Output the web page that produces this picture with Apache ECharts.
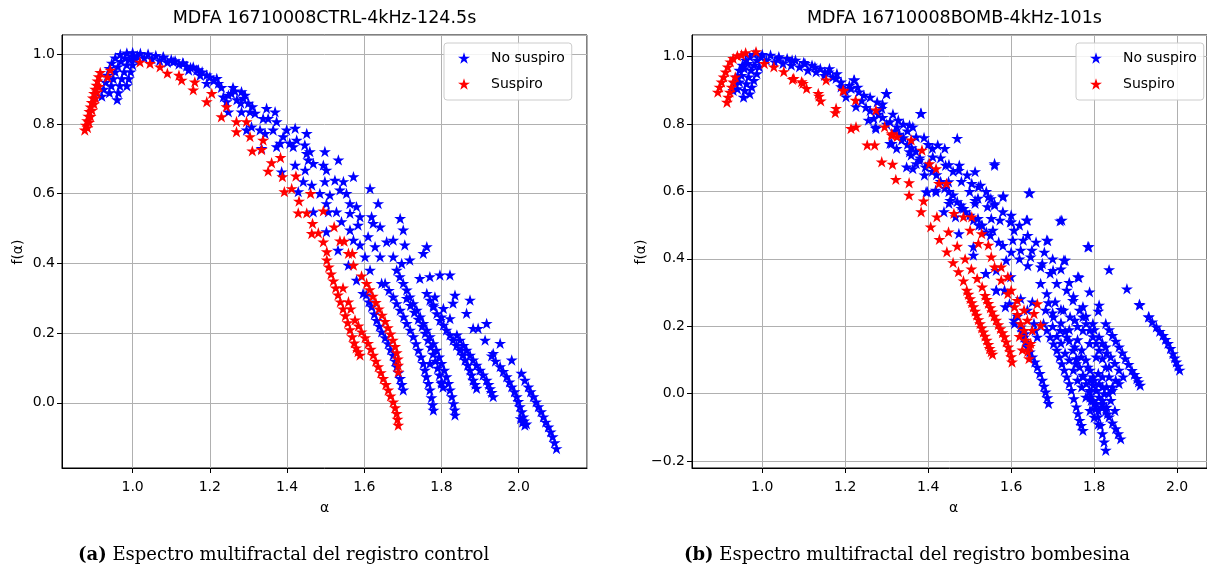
<!DOCTYPE html>
<html><head><meta charset="utf-8">
<script src="https://cdn.jsdelivr.net/npm/echarts@6/dist/echarts.min.js"></script>
<style>html,body{margin:0;padding:0;background:#fff}#c{width:1207px;height:570px}</style>
</head><body><div id="c"></div>
<script>
// ---------- text ----------
const chartTitles = ['MDFA 16710008CTRL-4kHz-124.5s', 'MDFA 16710008BOMB-4kHz-101s'];
const seriesNames = ['No suspiro', 'Suspiro'];
const xName = 'α';
const yName = 'f(α)';
const captionTags = ['(a)', '(b)'];
const captionTexts = ['Espectro multifractal del registro control', 'Espectro multifractal del registro bombesina'];

// ---------- panel (a) : control ----------
const leftBlue = [
[0.92,0.88],[0.925,0.9],[0.93,0.92],[0.935,0.94],[0.94,0.96],[0.946,0.975],[0.955,0.99],[0.968,1.0],[0.985,1.004],[1.0,1.005],
[0.94,0.89],[0.945,0.91],[0.95,0.93],[0.955,0.95],[0.962,0.965],[0.97,0.98],[0.98,0.99],
[0.96,0.87],[0.963,0.89],[0.967,0.91],[0.972,0.93],[0.978,0.95],[0.985,0.97],[0.992,0.985],[1.0,0.995],
[0.985,0.91],[0.99,0.93],[0.995,0.95],[1.0,0.97],[1.006,0.985],[1.012,0.996],
[1.02,1.003],[1.04,1.001],[1.06,0.997],[1.08,0.992],[1.1,0.985],[1.03,0.99],[1.05,0.987],[1.07,0.982],[1.09,0.977],[1.12,0.972],[1.14,0.966],[1.11,0.982],[1.13,0.976],[1.15,0.962],[1.17,0.956],
[1.18,0.95],[1.2,0.935],[1.21,0.925],[1.175,0.94],[1.145,0.955],[1.23,0.905],[1.27,0.87],[1.265,0.895],[1.3,0.86],[1.31,0.85],[1.28,0.86],[1.26,0.905],
[1.079,0.993],[1.105,0.979],[1.131,0.974],[1.157,0.964],[1.166,0.955],[1.192,0.941],[1.218,0.931],[1.222,0.917],[1.192,0.917],[1.248,0.883],[1.256,0.888],[1.282,0.893],[1.287,0.874],[1.291,0.883],[1.235,0.878],[1.243,0.864],[1.248,0.835],[1.282,0.835],[1.304,0.835],[1.317,0.831],[1.347,0.845],[1.369,0.835],[1.338,0.816],[1.351,0.816],[1.373,0.807],[1.295,0.783],[1.33,0.783],[1.364,0.783],[1.343,0.773],[1.308,0.792],[1.334,0.73],[1.382,0.745],[1.373,0.735],[1.399,0.783],[1.421,0.788],[1.451,0.773],[1.39,0.764],[1.407,0.745],[1.425,0.754],[1.416,0.735],[1.446,0.74],[1.459,0.721],[1.451,0.716],[1.498,0.721],[1.533,0.697],[1.386,0.663],[1.421,0.682],[1.455,0.697],[1.447,0.668],[1.468,0.687],[1.494,0.682],[1.502,0.668],[1.442,0.635],[1.464,0.625],[1.498,0.635],[1.524,0.639],[1.546,0.635],[1.572,0.649],[1.429,0.606],[1.485,0.601],[1.511,0.596],[1.537,0.611],[1.554,0.601],[1.615,0.615],[1.502,0.572],[1.468,0.548],[1.507,0.548],[1.528,0.548],[1.563,0.572],[1.58,0.563],[1.636,0.572],[1.563,0.544],[1.589,0.534],[1.619,0.534],[1.623,0.515],[1.502,0.491],[1.541,0.52],[1.563,0.496],[1.584,0.51],[1.693,0.529],[1.701,0.496],[1.641,0.505],[1.572,0.467],[1.589,0.453],[1.61,0.477],[1.628,0.448],[1.658,0.462],[1.675,0.467],[1.705,0.453],[1.532,0.438],[1.559,0.395],[1.602,0.419],[1.641,0.419],[1.675,0.419],[1.697,0.4],[1.718,0.41],[1.753,0.429],[1.762,0.448],[1.58,0.352],[1.597,0.314],[1.615,0.381],[1.645,0.343],[1.744,0.357],[1.77,0.362],[1.796,0.367],[1.822,0.367],[1.783,0.304],[1.835,0.309],[1.874,0.295],[1.779,0.281],[1.805,0.271],[1.83,0.286],[1.865,0.257],[1.8,0.247],[1.822,0.242],[1.882,0.214],[1.895,0.214],[1.917,0.228],[1.913,0.18],[1.952,0.171],[1.982,0.123],[1.934,0.142],[1.77,0.113],[1.8,0.056],
[1.605,0.31],[1.612,0.29],[1.619,0.276],[1.626,0.255],[1.632,0.237],[1.639,0.22],[1.645,0.204],[1.654,0.187],[1.662,0.17],[1.668,0.153],[1.675,0.137],[1.68,0.12],[1.684,0.104],[1.689,0.087],[1.693,0.07],[1.697,0.053],[1.701,0.037],
[1.654,0.343],[1.664,0.323],[1.675,0.304],[1.684,0.285],[1.693,0.266],[1.702,0.247],[1.71,0.228],[1.719,0.209],[1.727,0.19],[1.734,0.17],[1.74,0.151],[1.747,0.132],[1.753,0.113],[1.757,0.094],[1.761,0.075],[1.766,0.056],[1.77,0.037],[1.774,0.015],[1.777,-0.005],[1.779,-0.021],
[1.684,0.381],[1.692,0.362],[1.701,0.343],[1.71,0.324],[1.718,0.304],[1.727,0.285],[1.736,0.266],[1.745,0.247],[1.753,0.228],[1.762,0.209],[1.77,0.19],[1.779,0.17],[1.787,0.151],[1.794,0.132],[1.8,0.113],[1.807,0.094],[1.813,0.075],[1.818,0.056],[1.822,0.037],[1.827,0.018],[1.831,-0.002],[1.834,-0.02],[1.835,-0.035],
[1.71,0.3],[1.72,0.28],[1.73,0.26],[1.74,0.24],[1.75,0.22],[1.758,0.2],[1.765,0.18],[1.772,0.16],[1.778,0.14],[1.784,0.12],[1.79,0.1],[1.795,0.08],[1.8,0.06],[1.804,0.045],
[1.762,0.314],[1.77,0.295],[1.779,0.276],[1.788,0.256],[1.796,0.237],[1.805,0.223],[1.813,0.209],[1.822,0.195],[1.83,0.18],[1.839,0.165],[1.848,0.151],[1.855,0.137],[1.861,0.123],[1.868,0.108],[1.874,0.094],[1.878,0.08],[1.882,0.065],[1.887,0.053],[1.891,0.042],
[1.84,0.195],[1.848,0.18],[1.857,0.165],[1.865,0.151],[1.874,0.137],[1.882,0.123],[1.891,0.108],[1.9,0.094],[1.908,0.08],[1.917,0.065],[1.922,0.053],[1.926,0.041],[1.93,0.03],[1.934,0.018],
[1.93,0.135],[1.94,0.12],[1.952,0.104],[1.96,0.09],[1.969,0.075],[1.976,0.06],[1.982,0.046],[1.989,0.032],[1.995,0.018],[1.999,0.004],[2.003,-0.011],[2.008,-0.025],[2.012,-0.04],[2.014,-0.052],[2.016,-0.064],[2.005,-0.045],[2.01,-0.055],[2.02,-0.06],
[2.007,0.085],[2.016,0.065],[2.025,0.046],[2.031,0.032],[2.038,0.018],[2.045,0.003],[2.051,-0.011],[2.058,-0.025],[2.064,-0.04],[2.07,-0.055],[2.077,-0.069],[2.083,-0.083],[2.088,-0.097],[2.093,-0.114],[2.098,-0.131]
];
const leftRed = [
[0.876,0.783],[0.879,0.797],[0.882,0.81],[0.885,0.823],[0.888,0.836],[0.891,0.849],[0.894,0.862],[0.897,0.875],[0.9,0.888],[0.903,0.9],[0.906,0.912],[0.909,0.924],[0.912,0.936],[0.916,0.948],
[0.883,0.79],[0.887,0.805],[0.891,0.822],[0.895,0.84],[0.9,0.858],[0.904,0.875],[0.908,0.892],[0.912,0.908],[0.935,0.935],[0.942,0.955],
[1.019,0.978],[1.045,0.974],[1.071,0.964],[1.09,0.946],[1.12,0.94],[1.127,0.926],[1.161,0.921],[1.157,0.898],[1.205,0.888],[1.192,0.864],[1.243,0.85],[1.23,0.821],[1.269,0.807],[1.295,0.807],[1.269,0.778],[1.304,0.764],[1.338,0.754],[1.31,0.723],[1.334,0.727],[1.36,0.689],[1.383,0.704],[1.351,0.665],[1.388,0.649],[1.423,0.651],[1.393,0.606],[1.412,0.615],[1.431,0.579],[1.429,0.545],[1.451,0.545],[1.461,0.601],[1.466,0.515],[1.464,0.486],[1.481,0.488],[1.494,0.462],[1.503,0.434],[1.522,0.505],[1.548,0.464],[1.569,0.429],[1.494,0.551],[1.537,0.465],[1.559,0.429],
[1.503,0.41],[1.508,0.39],[1.514,0.37],[1.52,0.35],[1.526,0.33],[1.532,0.31],[1.538,0.29],[1.545,0.27],[1.551,0.25],[1.557,0.23],[1.563,0.21],[1.569,0.19],[1.574,0.172],[1.579,0.158],[1.584,0.147],[1.589,0.137],
[1.559,0.29],[1.545,0.33],[1.565,0.27],
[1.576,0.238],[1.585,0.221],[1.593,0.204],[1.602,0.187],[1.61,0.171],[1.617,0.154],[1.623,0.137],[1.63,0.12],[1.636,0.104],[1.643,0.087],[1.649,0.07],[1.656,0.053],[1.662,0.037],[1.668,0.02],[1.675,0.003],[1.68,-0.014],[1.684,-0.03],[1.686,-0.047],[1.688,-0.064],
[1.572,0.395],[1.593,0.364],[1.606,0.343],[1.614,0.325],[1.622,0.306],[1.63,0.288],[1.638,0.27],[1.646,0.252],[1.654,0.234],[1.661,0.216],[1.668,0.198],[1.674,0.18],[1.68,0.162],[1.684,0.144],[1.687,0.126],[1.688,0.108],[1.688,0.089]
];

// ---------- panel (b) : bombesina ----------
const rightBlue = [
[0.93,0.9],[0.935,0.92],[0.94,0.94],[0.945,0.96],[0.952,0.975],[0.96,0.99],[0.97,1.0],[0.94,0.905],[0.945,0.925],[0.95,0.945],[0.957,0.965],[0.965,0.98],[0.955,0.88],[0.958,0.9],[0.962,0.92],[0.967,0.94],[0.973,0.96],[0.98,0.975],[0.988,0.99],[0.997,1.0],[0.97,0.89],[0.975,0.91],[0.98,0.93],[0.987,0.95],[0.993,0.97],
[0.98,1.007],[1.0,1.007],[1.02,1.005],[1.04,1.0],[1.06,0.995],[1.08,0.99],[1.1,0.983],[1.12,0.975],[1.01,0.99],[1.03,0.985],[1.05,0.98],[1.07,0.975],[1.09,0.97],[1.11,0.96],[1.13,0.955],[1.15,0.945],[1.17,0.94],[1.19,0.925],[1.21,0.915],[1.14,0.965],[1.16,0.955],[1.18,0.95],
[1.04,0.995],[1.072,0.99],[1.103,0.98],[1.127,0.97],[1.151,0.955],[1.162,0.965],[1.178,0.936],[1.19,0.911],[1.221,0.931],[1.233,0.896],[1.245,0.886],[1.277,0.866],[1.3,0.891],[1.288,0.847],[1.269,0.817],[1.273,0.792],[1.308,0.807],[1.328,0.812],[1.355,0.797],[1.383,0.832],[1.312,0.743],[1.336,0.753],[1.355,0.718],[1.371,0.762],[1.363,0.668],[1.391,0.649],[1.324,0.728],[1.379,0.693],[1.214,0.906],[1.202,0.881],
[1.222,0.931],[1.226,0.852],[1.299,0.891],[1.256,0.812],[1.274,0.787],[1.308,0.743],[1.325,0.792],[1.363,0.792],[1.382,0.832],[1.359,0.708],[1.393,0.673],[1.41,0.728],[1.423,0.738],[1.44,0.728],[1.398,0.599],[1.419,0.599],[1.449,0.629],[1.47,0.758],[1.475,0.678],[1.494,0.649],[1.513,0.659],[1.526,0.619],[1.56,0.678],[1.551,0.579],[1.581,0.587],[1.645,0.596],[1.598,0.51],[1.637,0.515],[1.718,0.513],[1.688,0.454],[1.727,0.396],[1.787,0.436],[1.763,0.345],[1.836,0.368],[1.812,0.263],[1.879,0.311],[1.91,0.263],[1.453,0.574],[1.479,0.56],[1.513,0.565],[1.543,0.555],[1.466,0.525],[1.522,0.5],[1.556,0.485],[1.573,0.515],[1.607,0.485],[1.629,0.456],[1.65,0.426],[1.675,0.386],[1.701,0.366],[1.564,0.307],[1.586,0.258],[1.607,0.218],[1.633,0.178],[1.658,0.188],[1.599,0.347],[1.539,0.357],[1.509,0.411],
[1.24,0.87],[1.25,0.85],[1.26,0.84],[1.28,0.83],[1.29,0.82],[1.3,0.8],[1.32,0.78],[1.33,0.77],[1.34,0.76],[1.35,0.74],[1.36,0.73],[1.37,0.72],[1.38,0.7],[1.4,0.68],[1.41,0.66],[1.42,0.65],[1.43,0.63],[1.44,0.61],[1.45,0.6],[1.46,0.59],[1.47,0.57],[1.48,0.55],[1.49,0.54],[1.5,0.53],[1.52,0.52],[1.53,0.5],[1.54,0.48],[1.55,0.47],[1.57,0.45],[1.58,0.44],[1.6,0.42],[1.62,0.4],[1.64,0.38],[1.2,0.9],[1.23,0.91],[1.26,0.88],[1.29,0.86],[1.315,0.83],[1.34,0.8],[1.35,0.78],[1.39,0.76],[1.4,0.74],[1.43,0.7],[1.45,0.68],[1.46,0.66],[1.48,0.63],[1.5,0.6],[1.52,0.58],[1.54,0.6],[1.56,0.56],[1.58,0.54],[1.6,0.53],[1.62,0.5],[1.64,0.47],[1.66,0.45],[1.68,0.42],[1.7,0.4],[1.72,0.37],[1.74,0.33],
[1.348,0.673],[1.371,0.683],[1.411,0.703],[1.442,0.678],[1.474,0.663],[1.505,0.624],[1.521,0.614],[1.545,0.584],[1.56,0.564],[1.58,0.584],[1.552,0.52],[1.529,0.5],[1.509,0.515],[1.474,0.475],[1.438,0.54],[1.45,0.565],[1.418,0.604],[1.395,0.599],[1.485,0.55],[1.513,0.574],[1.509,0.436],
[1.56,0.683],[1.643,0.596],[1.722,0.515],[1.785,0.436],[1.909,0.265],[1.932,0.228],[1.761,0.347],[1.789,0.302],[1.73,0.396],[1.686,0.456],[1.639,0.515],[1.6,0.51],[1.604,0.456],[1.623,0.426],[1.647,0.406],[1.671,0.376],[1.694,0.357],[1.71,0.327],[1.734,0.307],[1.749,0.277],[1.773,0.258],[1.671,0.327],[1.686,0.297],[1.706,0.272],[1.726,0.248],[1.742,0.228],[1.683,0.248],[1.702,0.228],[1.718,0.188],[1.734,0.168],[1.753,0.139],[1.769,0.109],[1.785,0.079],[1.797,0.05],[1.812,0.03],[1.824,0.0],[1.757,0.089],[1.773,0.05],[1.789,0.01],[1.805,0.01],[1.82,0.05],[1.836,0.079],[1.805,0.109],[1.789,0.149],[1.773,0.188],[1.753,0.218],[1.812,0.168],[1.797,0.208],[1.828,0.139],[1.84,0.109],[1.852,0.04],[1.86,0.03],[1.844,0.01],[1.82,-0.04],[1.832,-0.06],[1.805,-0.03],[1.793,-0.02],[1.663,0.168],[1.655,0.208],[1.639,0.248],[1.608,0.208],[1.596,0.267],[1.584,0.307],[1.564,0.307],[1.539,0.357],[1.564,0.366],[1.588,0.396],[1.623,0.282],[1.651,0.272],
[1.79,-0.01],[1.8,-0.03],[1.81,-0.05],[1.82,-0.02],[1.83,-0.04],[1.835,0.0],
[1.7,0.2],[1.71,0.17],[1.72,0.15],[1.73,0.12],[1.74,0.1],[1.75,0.07],[1.76,0.04],[1.77,0.02],[1.78,-0.01],[1.79,-0.05],[1.8,-0.07],[1.81,-0.09],[1.76,0.16],[1.77,0.13],[1.78,0.1],[1.79,0.07],[1.8,0.04],[1.81,0.06],[1.82,0.02],[1.83,0.02],[1.84,-0.02],[1.85,-0.05],[1.69,0.27],[1.7,0.24],[1.72,0.25],[1.74,0.19],[1.76,0.2],[1.78,0.23],[1.8,0.19],[1.82,0.15],[1.83,0.12],[1.85,0.09],[1.86,0.07],[1.87,0.05],
[1.615,0.23],[1.623,0.198],[1.627,0.183],[1.631,0.168],[1.635,0.153],[1.639,0.139],[1.645,0.124],[1.651,0.109],[1.657,0.094],[1.663,0.079],[1.669,0.06],[1.675,0.04],[1.679,0.022],[1.683,0.005],[1.687,-0.012],[1.69,-0.029],
[1.678,0.208],[1.686,0.188],[1.694,0.168],[1.702,0.148],[1.71,0.129],[1.716,0.109],[1.722,0.089],[1.728,0.07],[1.734,0.05],[1.74,0.03],[1.745,0.01],[1.751,-0.015],[1.757,-0.039],[1.761,-0.059],[1.765,-0.079],[1.769,-0.094],[1.773,-0.109],
[1.72,0.21],[1.73,0.185],[1.74,0.157],[1.749,0.129],[1.757,0.104],[1.765,0.079],[1.773,0.055],[1.781,0.03],[1.789,0.005],[1.797,-0.02],[1.803,-0.045],[1.809,-0.069],[1.815,-0.094],[1.82,-0.119],[1.824,-0.143],[1.828,-0.168],
[1.79,0.04],[1.798,0.025],[1.805,0.01],[1.812,-0.01],[1.82,-0.03],[1.828,-0.05],[1.836,-0.069],[1.844,-0.087],[1.852,-0.104],[1.858,-0.119],[1.864,-0.134],
[1.75,0.288],[1.765,0.248],[1.773,0.228],[1.781,0.208],[1.789,0.188],[1.797,0.169],[1.805,0.149],[1.812,0.129],[1.82,0.104],[1.828,0.079],[1.836,0.05],[1.844,0.02],
[1.81,0.245],[1.828,0.208],[1.836,0.19],[1.844,0.173],[1.852,0.156],[1.86,0.139],[1.868,0.121],[1.875,0.104],[1.883,0.087],[1.891,0.069],[1.897,0.057],[1.903,0.045],[1.907,0.035],[1.911,0.025],
[1.931,0.228],[1.94,0.213],[1.95,0.198],[1.958,0.185],[1.966,0.173],[1.972,0.161],[1.978,0.149],[1.984,0.134],[1.99,0.119],[1.994,0.106],[1.998,0.094],[2.002,0.082],[2.006,0.07]
];
const rightRed = [
[0.893,0.895],[0.897,0.91],[0.902,0.925],[0.907,0.94],[0.912,0.955],[0.917,0.97],[0.923,0.985],[0.93,0.995],[0.94,1.003],[0.95,1.006],[0.915,0.865],[0.918,0.88],[0.922,0.895],[0.926,0.91],[0.93,0.925],[0.935,0.94],[0.96,1.012],[0.985,1.015],
[1.005,0.98],[1.028,0.97],[1.052,0.956],[1.076,0.936],[1.095,0.926],[1.107,0.906],[1.135,0.891],[1.141,0.869],[1.178,0.847],[1.176,0.834],[1.196,0.899],[1.225,0.871],[1.214,0.787],[1.226,0.792],[1.253,0.738],[1.271,0.738],[1.288,0.688],[1.314,0.681],[1.322,0.636],[1.354,0.626],[1.354,0.589],[1.383,0.54],[1.389,0.572],[1.312,0.767],[1.073,0.933],[1.098,0.921],[1.137,0.883],[1.154,0.931],[1.195,0.901],[1.295,0.792],[1.312,0.772],[1.359,0.753],[1.385,0.723],[1.419,0.668],[1.444,0.624],[1.274,0.842],[1.325,0.763],
[1.403,0.683],[1.426,0.624],[1.462,0.535],
[1.406,0.495],[1.421,0.525],[1.427,0.458],[1.449,0.48],[1.445,0.421],[1.47,0.438],[1.46,0.389],[1.489,0.4],[1.473,0.362],[1.504,0.37],[1.485,0.335],[1.518,0.342],[1.53,0.317],
[1.493,0.307],[1.497,0.295],[1.501,0.282],[1.505,0.27],[1.509,0.258],[1.513,0.245],[1.517,0.233],[1.521,0.22],[1.525,0.208],[1.529,0.195],[1.533,0.183],[1.537,0.171],[1.541,0.159],[1.545,0.146],[1.548,0.134],[1.552,0.125],[1.555,0.117],
[1.537,0.292],[1.541,0.28],[1.545,0.268],[1.55,0.255],[1.554,0.243],[1.559,0.23],[1.564,0.218],[1.569,0.205],[1.574,0.193],[1.579,0.181],[1.584,0.169],[1.588,0.154],[1.593,0.139],[1.597,0.125],[1.6,0.11],[1.602,0.094],
[1.485,0.525],[1.505,0.525],[1.501,0.485],[1.521,0.446],[1.529,0.475],[1.545,0.441],[1.552,0.406],[1.56,0.376],[1.576,0.376],[1.576,0.337],[1.592,0.347],[1.592,0.297],[1.6,0.307],[1.608,0.258],[1.615,0.277],[1.623,0.208],[1.631,0.248],[1.631,0.188],[1.635,0.159],[1.639,0.218],[1.643,0.104],[1.647,0.149],[1.651,0.188],[1.655,0.238],[1.663,0.267],[1.671,0.203],[1.615,0.235],[1.62,0.17],[1.627,0.13],[1.64,0.125],[1.645,0.14]
];

// ---------- axis extents (read from the frame) ----------
const xRanges = [[0.817, 2.177], [0.8307, 2.072]];
const yRanges = [[-0.187, 1.0554], [-0.2208, 1.0644]];

const STAR = 'path://M0,-1L0.2245,-0.309L0.9511,-0.309L0.3633,0.118L0.5878,0.809L0,0.382L-0.5878,0.809L-0.3633,0.118L-0.9511,-0.309L-0.2245,-0.309Z';
const BLUE = '#0000ff', RED = '#ff0000';
const FONT = 'DejaVu Sans';
const fmt = v => (Math.abs(v) < 1e-9 ? 0 : v).toFixed(1).replace('-', '\u2212');

const gridBoxes = [{left: 62, top: 35, width: 525, height: 433}, {left: 692, top: 35, width: 525, height: 433}];

function axisCommon(gi, range, split) {
  return {
    type: 'value', gridIndex: gi, min: range[0], max: range[1], splitNumber: split,
    axisLine: {show: true, onZero: false, lineStyle: {color: '#000', width: 1}},
    axisTick: {show: true, inside: false, length: 5, lineStyle: {color: '#000', width: 1}},
    axisLabel: {show: true, color: '#000', fontSize: 14, fontFamily: FONT, formatter: fmt, showMinLabel: false, showMaxLabel: false},
    splitLine: {show: true, lineStyle: {color: '#b0b0b0', width: 1}}
  };
}
const xAxes = [0, 1].map(i => { const a = axisCommon(i, xRanges[i], 7); a.position = 'bottom'; a.axisLabel.margin = 12; return a; });
const yAxes = [0, 1].map(i => { const a = axisCommon(i, yRanges[i], 6); a.position = 'left'; a.axisLabel.margin = 7; return a; });

function scatter(name, data, color, i) {
  return {name, type: 'scatter', xAxisIndex: i, yAxisIndex: i, data, symbol: STAR, symbolSize: 12,
    symbolKeepAspect: true, itemStyle: {color, opacity: 1}, emphasis: {disabled: true}, silent: true, clip: true};
}
const series = [
  scatter(seriesNames[0], leftBlue, BLUE, 0), scatter(seriesNames[1], leftRed, RED, 0),
  scatter(seriesNames[0], rightBlue, BLUE, 1), scatter(seriesNames[1], rightRed, RED, 1)
];

const legendPos = [{left: 444, top: 43}, {left: 1076, top: 43}];
const legends = legendPos.map(p => ({
  left: p.left, top: p.top, orient: 'vertical', padding: [8, 7, 9, 14], itemGap: 12,
  itemWidth: 12, itemHeight: 12, borderColor: '#cccccc', borderWidth: 1, borderRadius: 3,
  backgroundColor: 'rgba(255,255,255,0.85)', selectedMode: false,
  textStyle: {fontSize: 14, fontFamily: FONT, color: '#000', padding: [0, 0, 0, 16], lineHeight: 12},
  data: [{name: seriesNames[0], icon: STAR, itemStyle: {color: BLUE}}, {name: seriesNames[1], icon: STAR, itemStyle: {color: RED}}]
}));

const graphics = [];
gridBoxes.forEach((g, i) => {
  const cx = g.left + g.width / 2;
  graphics.push({type: 'text', x: cx, y: 18, style: {text: chartTitles[i], font: '17.5px "DejaVu Sans"', fill: '#000', textAlign: 'center', textVerticalAlign: 'middle'}});
  graphics.push({type: 'text', x: cx - (i ? 1 : 0), y: 508, style: {text: xName, font: '14px "DejaVu Sans"', fill: '#000', textAlign: 'center', textVerticalAlign: 'middle'}});
});
graphics.push({type: 'text', x: 18, y: 252, rotation: Math.PI / 2, style: {text: yName, font: '14px "DejaVu Sans"', fill: '#000', textAlign: 'center', textVerticalAlign: 'middle'}});
graphics.push({type: 'text', x: 641, y: 252, rotation: Math.PI / 2, style: {text: yName, font: '14px "DejaVu Sans"', fill: '#000', textAlign: 'center', textVerticalAlign: 'middle'}});
const capX = [78, 684];
capX.forEach((x, i) => {
  graphics.push({type: 'text', x: x, y: 555, style: {
    text: '{b|' + captionTags[i] + '} {n|' + captionTexts[i] + '}',
    textVerticalAlign: 'middle', textAlign: 'left',
    rich: {b: {fontFamily: 'DejaVu Serif', fontWeight: 'bold', fontSize: 18, fill: '#000', color: '#000'},
           n: {fontFamily: 'DejaVu Serif', fontSize: 18, fill: '#000', color: '#000'}},
    font: '18px "DejaVu Serif"', fill: '#000'}});
});

const chart = echarts.init(document.getElementById('c'), null, {renderer: 'canvas'});
chart.setOption({
  animation: false,
  backgroundColor: '#fff',
  grid: gridBoxes.map(g => Object.assign({show: true, borderColor: '#000', borderWidth: 1, backgroundColor: 'transparent', containLabel: false}, g)),
  xAxis: xAxes, yAxis: yAxes,
  legend: legends,
  series: series,
  graphic: graphics
});
</script>
</body></html>
